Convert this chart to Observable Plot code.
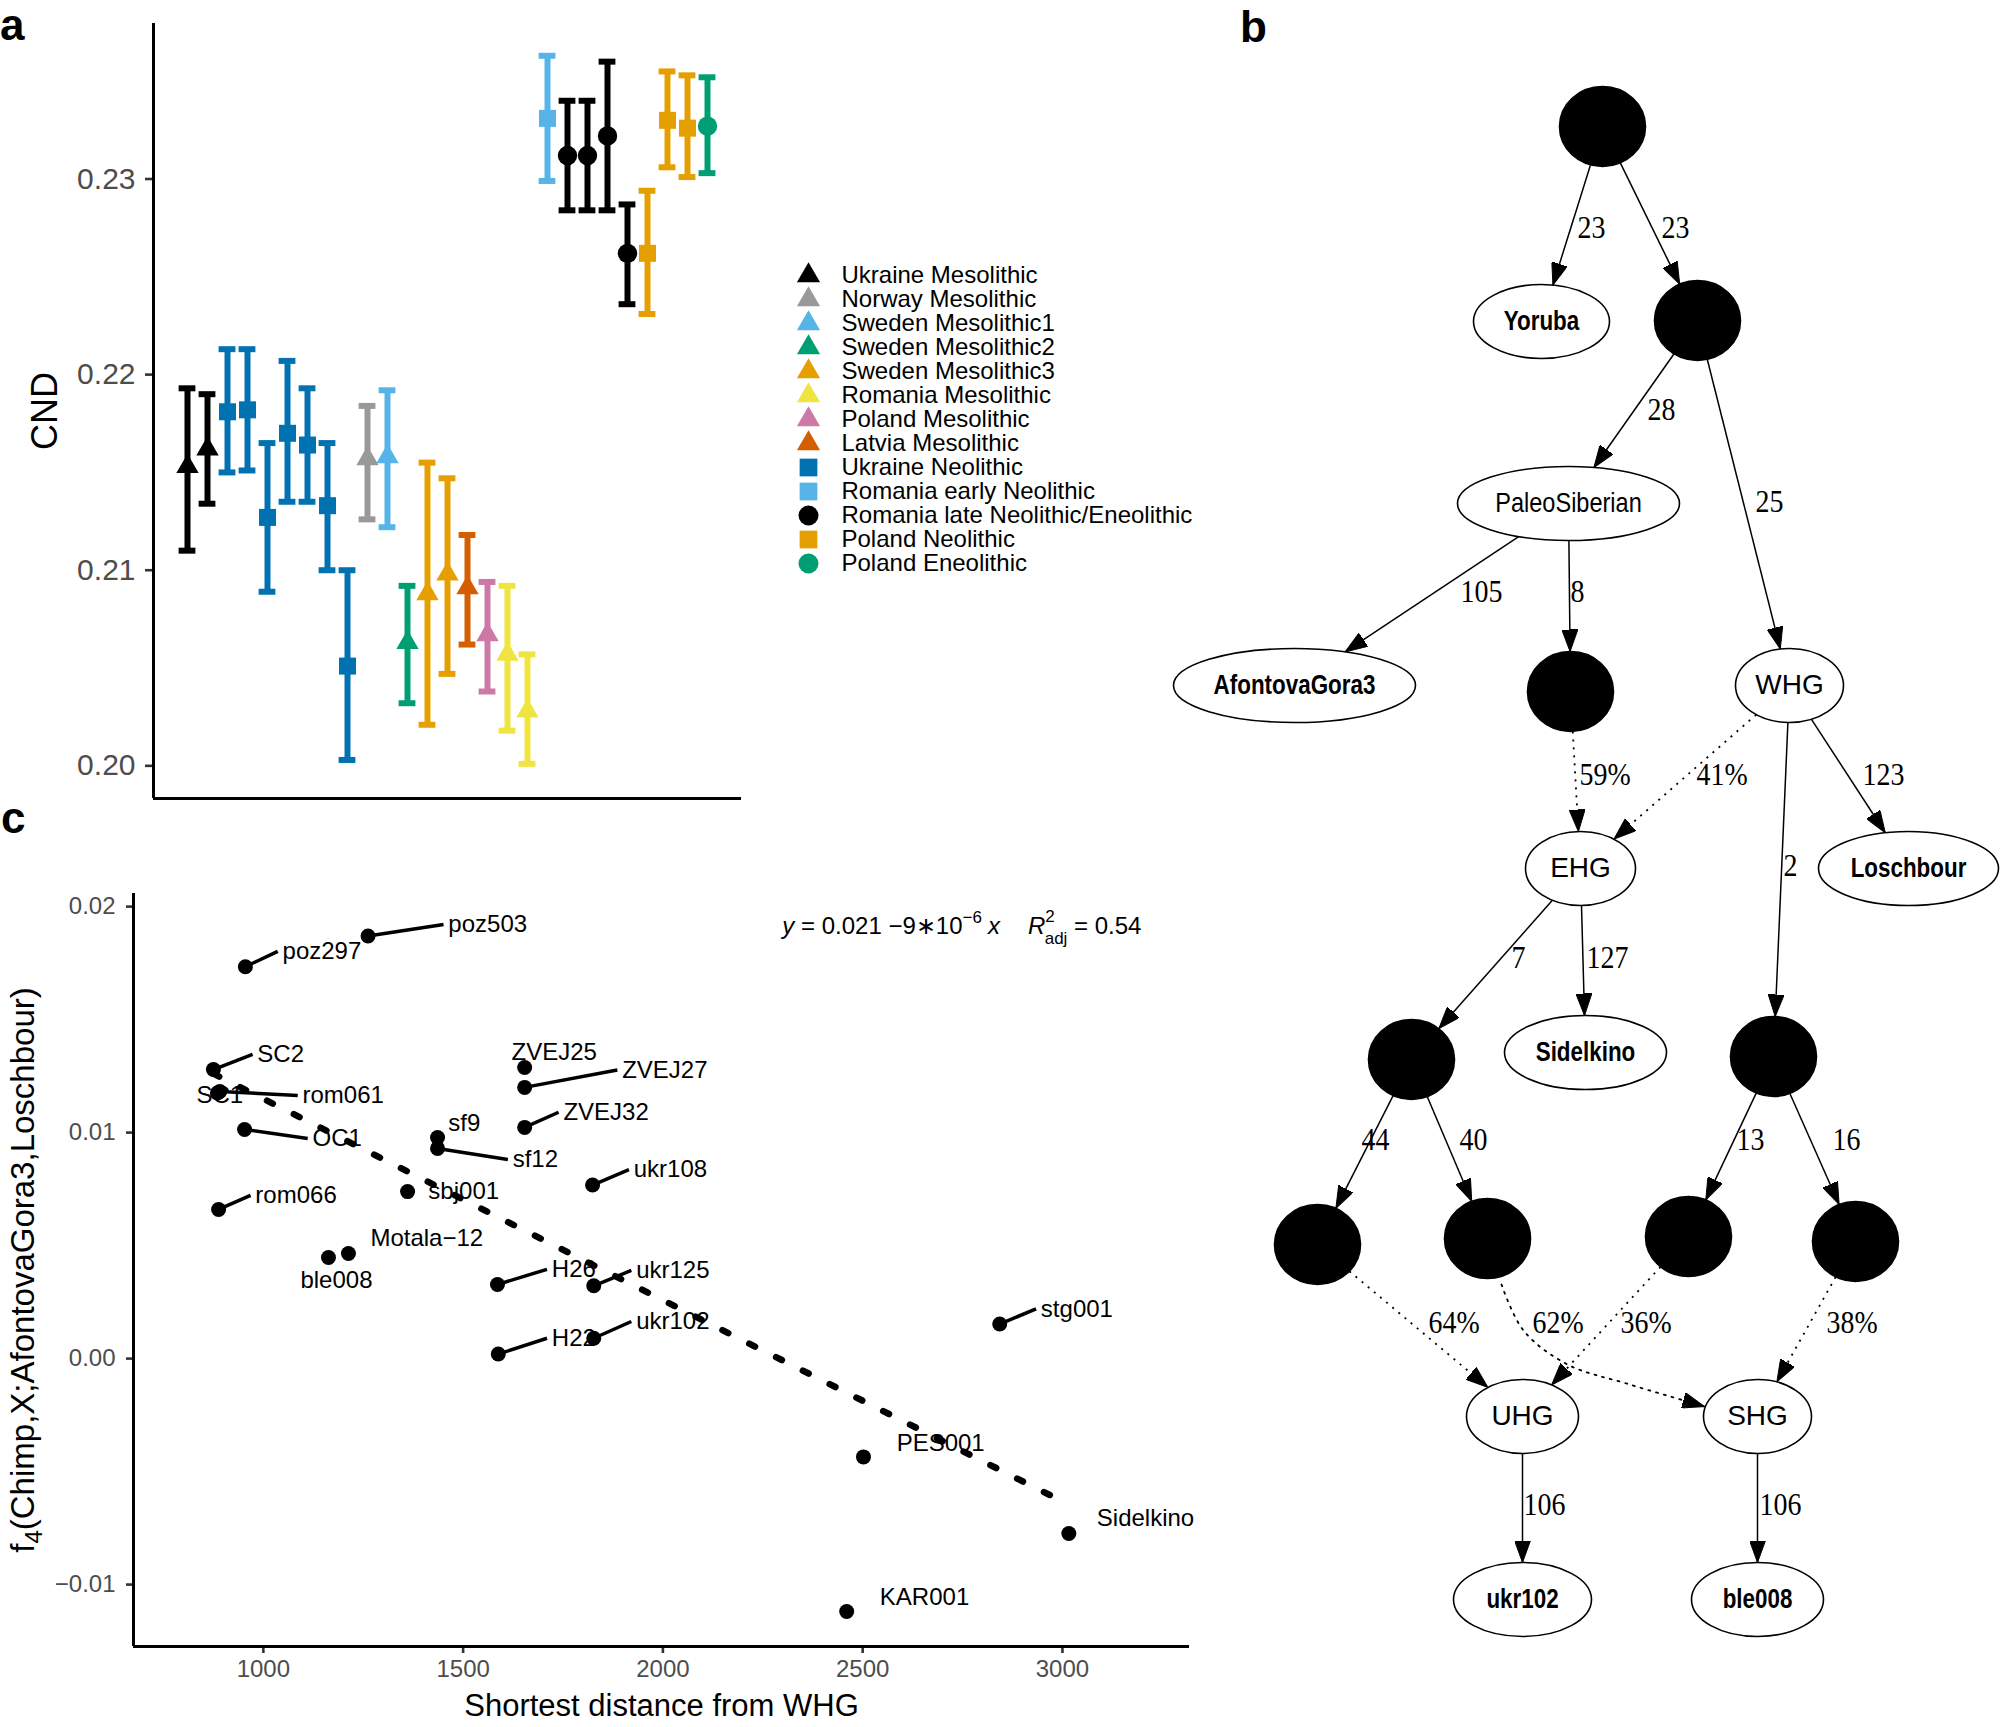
<!DOCTYPE html>
<html>
<head>
<meta charset="utf-8">
<script src="https://cdn.jsdelivr.net/npm/d3@7"></script>
<script src="https://cdn.jsdelivr.net/npm/@observablehq/plot@0.6"></script>
<style>
html,body{margin:0;padding:0;background:#fff;}
#root{position:relative;width:2001px;height:1727px;overflow:hidden;font-family:"Liberation Sans",Arial,sans-serif;background:#fff;}
.panel{position:absolute;}
#root svg{max-width:none !important;overflow:visible;background:transparent !important;}
.letter{position:absolute;font-weight:bold;font-size:44px;line-height:1;font-family:"Liberation Sans",Arial,sans-serif;}
</style>
</head>
<body>
<div id="root"></div>
<script>
// ================= Panel a data =================
const groupNames = ["Ukraine Mesolithic","Norway Mesolithic","Sweden Mesolithic1","Sweden Mesolithic2","Sweden Mesolithic3","Romania Mesolithic","Poland Mesolithic","Latvia Mesolithic","Ukraine Neolithic","Romania early Neolithic","Romania late Neolithic/Eneolithic","Poland Neolithic","Poland Eneolithic"];
const groupShapes = ["triangle","triangle","triangle","triangle","triangle","triangle","triangle","triangle","square","square","circle","square","circle"];
const sampleGroup = ["Ukraine Mesolithic","Ukraine Mesolithic","Ukraine Neolithic","Ukraine Neolithic","Ukraine Neolithic","Ukraine Neolithic","Ukraine Neolithic","Ukraine Neolithic","Ukraine Neolithic","Norway Mesolithic","Sweden Mesolithic1","Sweden Mesolithic2","Sweden Mesolithic3","Sweden Mesolithic3","Latvia Mesolithic","Poland Mesolithic","Romania Mesolithic","Romania Mesolithic","Romania early Neolithic","Romania late Neolithic/Eneolithic","Romania late Neolithic/Eneolithic","Romania late Neolithic/Eneolithic","Romania late Neolithic/Eneolithic","Poland Neolithic","Poland Neolithic","Poland Neolithic","Poland Eneolithic"];
const cndValue = [0.2153,0.2162,0.2181,0.2182,0.2127,0.2170,0.2164,0.2133,0.2051,0.2157,0.2158,0.2063,0.2088,0.2098,0.2091,0.2067,0.2057,0.2028,0.2331,0.2312,0.2312,0.2322,0.2262,0.2262,0.2330,0.2326,0.2327];
const cndLow   = [0.2110,0.2134,0.2150,0.2151,0.2089,0.2135,0.2135,0.2100,0.2003,0.2126,0.2122,0.2032,0.2021,0.2047,0.2062,0.2038,0.2018,0.2001,0.2299,0.2284,0.2284,0.2284,0.2236,0.2231,0.2306,0.2301,0.2303];
const cndHigh  = [0.2193,0.2190,0.2213,0.2213,0.2165,0.2207,0.2193,0.2165,0.2100,0.2184,0.2192,0.2092,0.2155,0.2147,0.2118,0.2094,0.2092,0.2057,0.2363,0.2340,0.2340,0.2360,0.2287,0.2294,0.2355,0.2353,0.2352];
const cndTicks = [0.20,0.21,0.22,0.23];

// ================= Panel c data =================
const sampleNames = ["poz297","poz503","SC2","SC1","rom061","OC1","rom066","ble008","Motala\u221212","sbj001","sf9","sf12","ZVEJ25","ZVEJ27","ZVEJ32","ukr108","H26","ukr125","ukr102","H22","stg001","PES001","Sidelkino","KAR001"];
const distWHG = [955,1262,875,885,891,953,888,1163,1213,1361,1436,1436,1654,1654,1654,1824,1586,1827,1827,1588,2843,2502,3016,2460];
const f4Value = [0.01734,0.01870,0.01279,0.01175,0.01182,0.01014,0.00660,0.00447,0.00465,0.00739,0.00978,0.00930,0.01288,0.01200,0.01023,0.00768,0.00328,0.00322,0.00090,0.00020,0.00153,-0.00435,-0.00774,-0.01119];
const labelX = [1048,1463,985,891,1098,1123,980,1183,1268,1413,1463,1624,1728,1898,1751,1927,1722,1933,1933,1722,2946,2585,3086,2543];
const labelY = [0.01802,0.01921,0.01346,0.01164,0.01164,0.00974,0.00722,0.00346,0.00531,0.00739,0.01040,0.00881,0.01356,0.01277,0.01090,0.00836,0.00395,0.00390,0.00164,0.00090,0.00220,-0.00373,-0.00706,-0.01056];
const labelCentered = [0,0,0,1,0,0,0,1,0,0,0,0,1,0,0,0,0,0,0,0,0,0,0,0];
const labelSegment  = [1,1,1,0,1,1,1,0,0,0,0,1,0,1,1,1,1,1,1,1,1,0,0,0];
const distTicks = [1000,1500,2000,2500,3000];
const f4Ticks = [-0.01,0,0.01,0.02];
const eqPosition = [2299, 0.01912];

// ================= Panel b data (admixture graph) =================
const nodeIds = ["root","n2","Yoruba","PaleoSiberian","AfontovaGora3","n3","WHG","EHG","Loschbour","n4","Sidelkino","n5","b1","b2","b3","b4","UHG","SHG","ukr102","ble008"];
const nodeX = [1602,1697,1541,1568,1294,1570,1789,1580,1908,1411,1585,1773,1317,1487,1688,1855,1522,1757,1522,1757];
const nodeY = [126,320,321,503,685,691,685,868,868,1059,1052,1056,1244,1238,1236,1241,1416,1416,1599,1599];
const nodeKind = ["hidden","hidden","leaf","internal","leaf","hidden","internal","internal","leaf","hidden","leaf","hidden","hidden","hidden","hidden","hidden","internal","internal","leaf","leaf"];
const edgeFrom = ["root","root","n2","n2","PaleoSiberian","PaleoSiberian","n3","WHG","WHG","WHG","EHG","EHG","n4","n4","n5","n5","b1","b2","b3","b4","UHG","SHG"];
const edgeTo   = ["Yoruba","n2","PaleoSiberian","WHG","AfontovaGora3","n3","EHG","EHG","Loschbour","n5","n4","Sidelkino","b1","b2","b3","b4","UHG","SHG","UHG","SHG","ukr102","ble008"];
const edgeLabel = ["23","23","28","25","105","8","59%","41%","123","2","7","127","44","40","13","16","64%","62%","36%","38%","106","106"];
const edgeAdmix = [0,0,0,0,0,0,1,1,0,0,0,0,0,0,0,0,1,1,1,1,0,0];
const edgeLabelX = [1577,1661,1647,1755,1460,1570,1579,1696,1862,1783,1511,1586,1361,1459,1736,1832,1428,1532,1620,1826,1523,1759];
const edgeLabelY = [228,228,410,502,592,592,775,775,775,866,958,958,1140,1140,1140,1140,1323,1323,1323,1323,1505,1505];
// routed (curved) edge b2 -> SHG
const curveEdgeX = [1501,1523,1567,1626,1704];
const curveEdgeY = [1284,1330,1364,1383,1406];

// ================= styles =================
const groupColors = ["#000000","#999999","#56B4E9","#009E73","#E69F00","#F0E442","#CC79A7","#D55E00","#0072B2","#56B4E9","#000000","#E69F00","#009E73"];
const nodeRadiusX = {Yoruba:68, PaleoSiberian:111, AfontovaGora3:121, WHG:54, EHG:55, Loschbour:90, Sidelkino:81, UHG:56, SHG:54, ukr102:69, ble008:66};
const FONT = '"Liberation Sans", Arial, sans-serif';
const SERIF = '"Liberation Serif", "Times New Roman", serif';

const root = document.getElementById("root");
function place(el, left, top, w) {
  const d = document.createElement("div");
  d.className = "panel";
  d.style.left = left + "px"; d.style.top = top + "px";
  if (w) d.style.width = w + "px";
  d.appendChild(el); root.appendChild(d); return el;
}
function letter(t, left, top) {
  const d = document.createElement("div");
  d.className = "letter"; d.textContent = t;
  d.style.left = left + "px"; d.style.top = top + "px";
  root.appendChild(d);
}

// ================= Panel a =================
const ptsA = cndValue.map((v, k) => ({
  i: k + 1, group: sampleGroup[k], v, lo: cndLow[k], hi: cndHigh[k],
  shape: groupShapes[groupNames.indexOf(sampleGroup[k])]
}));
const xDomA = [-0.7, 28.7], yDomA = [0.19833, 0.23795];
const capHalf = 0.42;
const panelA = Plot.plot({
  width: 760, height: 820,
  marginLeft: 153, marginTop: 23, marginRight: 19, marginBottom: 22,
  style: {fontFamily: FONT, background: "transparent"},
  x: {domain: xDomA, axis: null},
  y: {domain: yDomA, axis: null},
  color: {domain: groupNames, range: groupColors},
  marks: [
    Plot.axisY({ticks: cndTicks, tickFormat: d3.format(".2f"), tickSize: 8, tickPadding: 10, fontSize: 30, fill: "#4d4d4d", stroke: "#333", strokeWidth: 2.6, label: null}),
    Plot.ruleX([xDomA[0]], {stroke: "black", strokeWidth: 3}),
    Plot.ruleY([yDomA[0]], {stroke: "black", strokeWidth: 3}),
    Plot.ruleX(ptsA, {x: "i", y1: "lo", y2: "hi", stroke: "group", strokeWidth: 6}),
    Plot.ruleY(ptsA, {y: "lo", x1: d => d.i - capHalf, x2: d => d.i + capHalf, stroke: "group", strokeWidth: 6}),
    Plot.ruleY(ptsA, {y: "hi", x1: d => d.i - capHalf, x2: d => d.i + capHalf, stroke: "group", strokeWidth: 6}),
    Plot.dot(ptsA.filter(d => d.shape === "triangle"), {x: "i", y: "v", fill: "group", symbol: "triangle", r: 8.3}),
    Plot.dot(ptsA.filter(d => d.shape === "square"), {x: "i", y: "v", fill: "group", symbol: "square", r: 9.6}),
    Plot.dot(ptsA.filter(d => d.shape === "circle"), {x: "i", y: "v", fill: "group", symbol: "circle", r: 9.7}),
    Plot.text(["CND"], {text: d => d, frameAnchor: "left", textAnchor: "middle", lineAnchor: "middle", dx: -108, rotate: -90, fontSize: 36, fill: "black"})
  ]
});
place(panelA, 0, 0, 760);

// legend of panel a
const legendA = Plot.plot({
  width: 440, height: 340, margin: 0,
  style: {fontFamily: FONT, background: "transparent"},
  x: {domain: [0, 1], axis: null},
  y: {type: "point", domain: groupNames, range: [23, 315], padding: 0, axis: null},
  color: {domain: groupNames, range: groupColors},
  marks: [
    Plot.dot(groupNames.filter((g, k) => groupShapes[k] === "triangle"), {y: d => d, fill: d => d, symbol: "triangle", r: 8.6, frameAnchor: "left", dx: 28}),
    Plot.dot(groupNames.filter((g, k) => groupShapes[k] === "square"), {y: d => d, fill: d => d, symbol: "square", r: 10, frameAnchor: "left", dx: 28}),
    Plot.dot(groupNames.filter((g, k) => groupShapes[k] === "circle"), {y: d => d, fill: d => d, symbol: "circle", r: 10, frameAnchor: "left", dx: 28}),
    Plot.text(groupNames, {y: d => d, text: d => d, frameAnchor: "left", dx: 61, textAnchor: "start", lineAnchor: "middle", fontSize: 24, fill: "black"})
  ]
});
place(legendA, 780, 250, 440);

// ================= Panel c =================
const ptsC = sampleNames.map((n, k) => ({
  name: n, x: distWHG[k], y: f4Value[k], lx: labelX[k], ly: labelY[k],
  centered: labelCentered[k], seg: labelSegment[k]
}));
const xDomC = [675, 3318], yDomC = [-0.01274, 0.02058];
const segGap = 12;
const panelC = Plot.plot({
  width: 1220, height: 877,
  marginLeft: 133, marginTop: 43, marginRight: 31, marginBottom: 81,
  style: {fontFamily: FONT, background: "transparent"},
  x: {domain: xDomC, axis: null},
  y: {domain: yDomC, axis: null},
  marks: [
    Plot.axisX({ticks: distTicks, tickFormat: d => String(d), tickSize: 7, tickPadding: 6, fontSize: 24, fill: "#4d4d4d", stroke: "#333", strokeWidth: 2.6, label: null}),
    Plot.axisY({ticks: f4Ticks, tickFormat: d3.format(".2f"), tickSize: 7, tickPadding: 11, fontSize: 24, fill: "#4d4d4d", stroke: "#333", strokeWidth: 2.6, label: null}),
    Plot.ruleX([xDomC[0]], {stroke: "black", strokeWidth: 3}),
    Plot.ruleY([yDomC[0]], {stroke: "black", strokeWidth: 3}),
    Plot.linearRegressionY(ptsC, {x: "x", y: "y", ci: 0, stroke: "black", strokeWidth: 6.5, strokeDasharray: "6.5,23.5"}),
    Plot.link(ptsC.filter(d => d.seg), {x1: "x", y1: "y", x2: d => d.lx - segGap, y2: "ly", stroke: "black", strokeWidth: 3.5}),
    Plot.dot(ptsC, {x: "x", y: "y", r: 7.5, fill: "black"}),
    Plot.text(ptsC.filter(d => !d.centered), {x: "lx", y: "ly", text: "name", textAnchor: "start", fontSize: 24, fill: "black"}),
    Plot.text(ptsC.filter(d => d.centered), {x: "lx", y: "ly", text: "name", textAnchor: "middle", fontSize: 24, fill: "black"}),
    Plot.text(["EQUATION"], {x: () => eqPosition[0], y: () => eqPosition[1], text: d => d, textAnchor: "start", fontSize: 24, fill: "black"}),
    Plot.text(["f4(Chimp,X;AfontovaGora3,Loschbour)"], {text: d => d, frameAnchor: "left", textAnchor: "middle", lineAnchor: "middle", dx: -110, rotate: -90, fontSize: 33, fill: "black"}),
    Plot.text(["Shortest distance from WHG"], {text: d => d, frameAnchor: "bottom", textAnchor: "middle", lineAnchor: "middle", dy: 60, fontSize: 31, fill: "black"})
  ]
});
place(panelC, 0, 850, 1220);
panelC.querySelectorAll("text").forEach(t => {
  if (t.textContent === "EQUATION") {
    t.innerHTML = '<tspan font-style="italic">y</tspan><tspan> = 0.021 \u22129\u221710</tspan>' +
      '<tspan dy="-11" font-size="17">\u22126</tspan>' +
      '<tspan dy="11" dx="6" font-style="italic">x</tspan>' +
      '<tspan dx="28" font-style="italic">R</tspan>' +
      '<tspan dy="-12" font-size="17">2</tspan>' +
      '<tspan dy="22" dx="-10" font-size="17">adj</tspan>' +
      '<tspan dy="-10"> = 0.54</tspan>';
  } else if (t.textContent === "f4(Chimp,X;AfontovaGora3,Loschbour)") {
    t.innerHTML = 'f<tspan dy="8" font-size="24">4</tspan><tspan dy="-8">(Chimp,X;AfontovaGora3,Loschbour)</tspan>';
  }
});

// ================= Panel b =================
const HIDDEN_RX = 43, HIDDEN_RY = 40, NODE_RY = 37;
const nodes = nodeIds.map((id, k) => ({
  id, x: nodeX[k], y: nodeY[k], kind: nodeKind[k],
  rx: nodeKind[k] === "hidden" ? HIDDEN_RX : nodeRadiusX[id],
  ry: nodeKind[k] === "hidden" ? HIDDEN_RY : NODE_RY
}));
const nodeById = new Map(nodes.map(n => [n.id, n]));
function boundary(n, dx, dy) {
  const t = 1 / Math.sqrt((dx / n.rx) ** 2 + (dy / n.ry) ** 2);
  return [n.x + dx * t, n.y + dy * t];
}
const edges = edgeFrom.map((f, k) => {
  const s = nodeById.get(f), t = nodeById.get(edgeTo[k]);
  const [x1, y1] = boundary(s, t.x - s.x, t.y - s.y);
  const [x2, y2] = boundary(t, s.x - t.x, s.y - t.y);
  return {from: f, to: edgeTo[k], label: edgeLabel[k], admix: edgeAdmix[k], x1, y1, x2, y2, lx: edgeLabelX[k], ly: edgeLabelY[k]};
});
const isCurved = e => e.from === "b2" && e.to === "SHG";
const straight = edges.filter(e => !isCurved(e));
const curvePts = curveEdgeX.map((x, k) => ({x, y: curveEdgeY[k]}));

function ellipseSymbol(rx, ry) {
  const k = 0.5522847498;
  return {draw(ctx) {
    ctx.moveTo(rx, 0);
    ctx.bezierCurveTo(rx, ry * k, rx * k, ry, 0, ry);
    ctx.bezierCurveTo(-rx * k, ry, -rx, ry * k, -rx, 0);
    ctx.bezierCurveTo(-rx, -ry * k, -rx * k, -ry, 0, -ry);
    ctx.bezierCurveTo(rx * k, -ry, rx, -ry * k, rx, 0);
    ctx.closePath();
  }};
}
const nodeMarks = nodes.map(n => Plot.dot([n], {
  x: "x", y: "y", r: 10, symbol: ellipseSymbol(n.rx, n.ry),
  fill: n.kind === "hidden" ? "black" : "white", stroke: "black", strokeWidth: 1.6
}));

const panelB = Plot.plot({
  width: 841, height: 1727, margin: 0,
  style: {fontFamily: FONT, background: "transparent"},
  x: {domain: [1160, 2001], range: [0, 841], axis: null},
  y: {domain: [0, 1727], range: [0, 1727], axis: null},
  marks: [
    Plot.link(straight.filter(e => !e.admix), {x1: "x1", y1: "y1", x2: "x2", y2: "y2", stroke: "black", strokeWidth: 1.5}),
    Plot.link(straight.filter(e => e.admix), {x1: "x1", y1: "y1", x2: "x2", y2: "y2", stroke: "black", strokeWidth: 1.8, strokeDasharray: "2,6"}),
    Plot.line(curvePts, {x: "x", y: "y", curve: "catmull-rom", stroke: "black", strokeWidth: 1.8, strokeDasharray: "2,6"}),
    ...nodeMarks,
    Plot.text(nodes.filter(n => n.kind === "leaf"), {x: "x", y: "y", text: "id", fontSize: 28, fontWeight: "bold", fill: "black"}),
    Plot.text(nodes.filter(n => n.kind === "internal"), {x: "x", y: "y", text: "id", fontSize: 28, fill: "black"}),
    Plot.text(edges, {x: "lx", y: "ly", text: "label", textAnchor: "start", fontSize: 31, fontFamily: SERIF, fill: "black"})
  ]
});
place(panelB, 1160, 0, 841);
// graphviz-like filled arrowheads on the edges
(function addArrowheads(svg) {
  const ns = "http://www.w3.org/2000/svg";
  const defs = document.createElementNS(ns, "defs");
  const m = document.createElementNS(ns, "marker");
  m.setAttribute("id", "gvArrow");
  m.setAttribute("viewBox", "0 0 22 16");
  m.setAttribute("refX", "22"); m.setAttribute("refY", "8");
  m.setAttribute("markerWidth", "22"); m.setAttribute("markerHeight", "16");
  m.setAttribute("markerUnits", "userSpaceOnUse");
  m.setAttribute("orient", "auto");
  const p = document.createElementNS(ns, "path");
  p.setAttribute("d", "M0,0L22,8L0,16Z");
  p.setAttribute("fill", "black"); p.setAttribute("stroke", "black"); p.setAttribute("stroke-width", "1");
  m.appendChild(p); defs.appendChild(m); svg.insertBefore(defs, svg.firstChild);
  svg.querySelectorAll('g[aria-label="link"] path, g[aria-label="line"] path').forEach(el => el.setAttribute("marker-end", "url(#gvArrow)"));
})(panelB);
// graphviz labels are set in a condensed face: squeeze the lower-case labels horizontally
(function condense(svg) {
  const edgeSet = new Set(edgeLabel);
  svg.querySelectorAll('g[aria-label="text"] text').forEach(t => {
    const s = t.textContent;
    const len = t.getComputedTextLength();
    let f;
    if (edgeSet.has(s)) f = 0.9;
    else if (s === s.toUpperCase()) f = 1.0;
    else if (nodeKind[nodeIds.indexOf(s)] === "leaf") f = 0.8;
    else f = 0.84;
    if (f < 1 && len > 0) {
      t.setAttribute("textLength", (len * f).toFixed(1));
      t.setAttribute("lengthAdjust", "spacingAndGlyphs");
    }
  });
})(panelB);

// panel letters
letter("a", 0, 3);
letter("b", 1240, 5);
letter("c", 1, 796);
</script>
</body>
</html>
